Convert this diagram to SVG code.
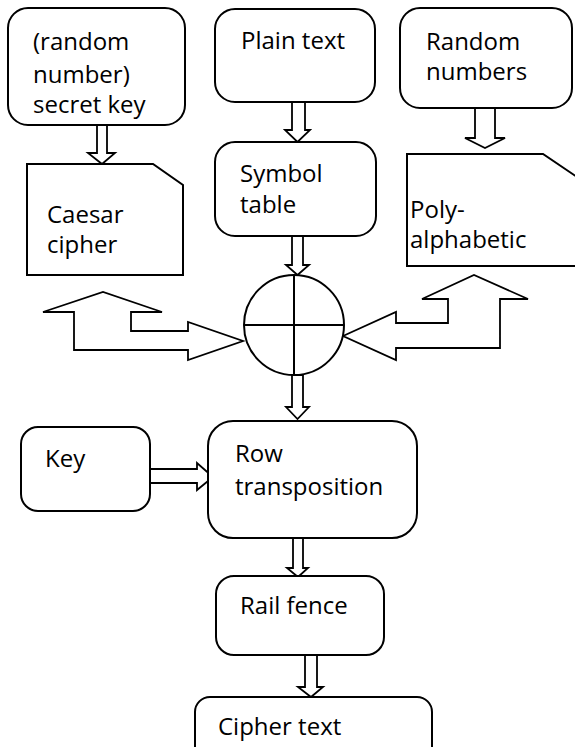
<svg xmlns="http://www.w3.org/2000/svg" width="575" height="747" viewBox="0 0 575 747">
<style>
.n{fill:#fff;stroke:#000;stroke-width:2}
.a{fill:#fff;stroke:#000;stroke-width:1.8;stroke-linejoin:miter}
.t{font-family:"Open Sans","Noto Sans",sans-serif;font-size:24px;fill:#000}
</style>
<rect width="575" height="747" fill="#fff"/>
<g id="connectors">
<polygon class="a" points="97,125 107,125 107,153 115,153 102,164 88,153 97,153"/>
<polygon class="a" points="292,102 305,102 305,130 310,130 297.5,142 285,130 292,130"/>
<polygon class="a" points="292,236 303,236 303,265 309,265 297.5,275 286,265 292,265"/>
<polygon class="a" points="475,108 495,108 495,138 505,138 485,148 465,138 475,138"/>
<polygon class="a" points="74,312 43,312 103,292 162,312 131,312 131,331 188,331 188,322 243,341 188,360 188,350 74,350"/>
<polygon class="a" points="343,336 396,312 396,323 448,323 448,299 422,299 474,275 528,299 500,299 500,348 396,348 396,360"/>
<polygon class="a" points="292,375 303,375 303,407 309,407 297.5,419 286,407 292,407"/>
<polygon class="a" points="150,469 197,469 197,463 213,477 197,490 197,483 150,483"/>
<polygon class="a" points="293,538 303,538 303,568 308,568 298,577 287,568 293,568"/>
<polygon class="a" points="305,655 317,655 317,687 323,687 311,697 298,687 305,687"/>
</g>
<g id="secret-key">
<rect class="n" x="8" y="8" width="177" height="117" rx="20"/>
<text class="t" x="33" y="50">(random</text>
<text class="t" x="33" y="83">number)</text>
<text class="t" x="33" y="113">secret key</text>
</g>
<g id="caesar">
<path class="n" d="M27,164 H153 L183,185 V275 H27 Z"/>
<text class="t" x="47" y="223">Caesar</text>
<text class="t" x="47" y="253">cipher</text>
</g>
<g id="plain-text">
<rect class="n" x="215" y="9" width="160" height="93" rx="20"/>
<text class="t" x="241" y="49">Plain text</text>
</g>
<g id="symbol-table">
<rect class="n" x="215" y="142" width="161" height="94" rx="20"/>
<text class="t" x="240" y="182">Symbol</text>
<text class="t" x="240" y="213">table</text>
</g>
<g id="random-numbers">
<rect class="n" x="400" y="8" width="172" height="100" rx="20"/>
<text class="t" x="426" y="50">Random</text>
<text class="t" x="426" y="80">numbers</text>
</g>
<g id="poly">
<path class="n" d="M407,154 H543 L577,177 V266 H407 Z"/>
<text class="t" x="410" y="218">Poly-</text>
<text class="t" x="410" y="248">alphabetic</text>
</g>
<g id="xor">
<circle class="n" cx="294" cy="325" r="50"/>
<line x1="244" y1="325" x2="344" y2="325" stroke="#000" stroke-width="2"/>
<line x1="294" y1="275" x2="294" y2="375" stroke="#000" stroke-width="2"/>
</g>
<g id="key">
<rect class="n" x="21" y="427" width="129" height="84" rx="17"/>
<text class="t" x="45" y="467">Key</text>
</g>
<g id="row-transposition">
<rect class="n" x="208" y="421" width="209" height="117" rx="25"/>
<text class="t" x="235" y="462">Row</text>
<text class="t" x="235" y="495">transposition</text>
</g>
<g id="rail-fence">
<rect class="n" x="216" y="576" width="168" height="79" rx="18"/>
<text class="t" x="240" y="614">Rail fence</text>
</g>
<g id="cipher-text">
<rect class="n" x="195" y="697" width="237" height="70" rx="15"/>
<text class="t" x="218" y="735">Cipher text</text>
</g>
</svg>
